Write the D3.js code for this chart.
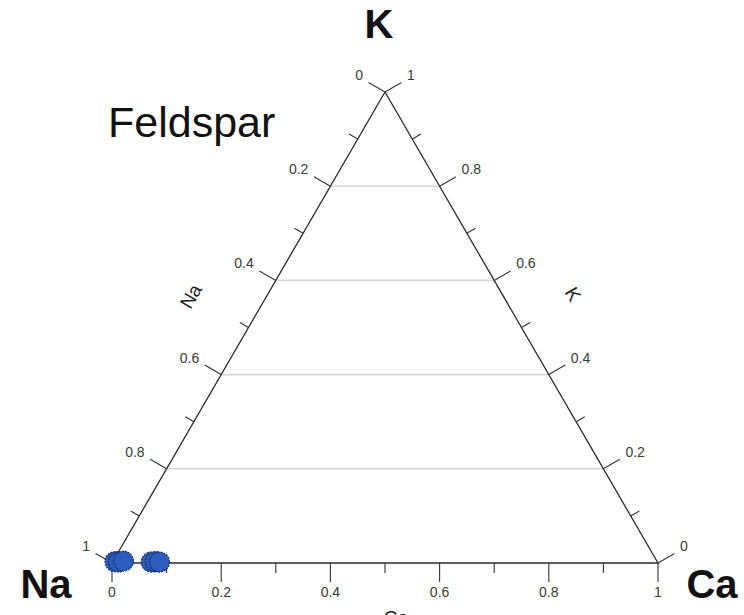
<!DOCTYPE html>
<html>
<head>
<meta charset="utf-8">
<script src="https://cdn.jsdelivr.net/npm/d3@7/dist/d3.min.js"></script>
<style>
  html, body { margin: 0; padding: 0; background: #fff; }
  svg { display: block; font-family: "Liberation Sans", Arial, sans-serif; }
</style>
</head>
<body>
<svg id="chart" width="744" height="615"></svg>
<script>
// Feldspar analyses, mole fractions of the three end-members
const sampleCa = [0.004, 0.011, 0.019, 0.071, 0.078, 0.086];
const sampleK  = [0.003, 0.002, 0.004, 0.002, 0.003, 0.002];
const sampleNa = sampleCa.map((c, i) => 1 - c - sampleK[i]);

// Axis ticks
const majorTicks = [0, 0.2, 0.4, 0.6, 0.8, 1];
const minorTicks = [0.1, 0.3, 0.5, 0.7, 0.9];
const tickLabels = ["0", "0.2", "0.4", "0.6", "0.8", "1"];
const gridK = [0.2, 0.4, 0.6, 0.8];

const vertexNames = ["Na", "K", "Ca"];
const chartTitle = "Feldspar";

const svg = d3.select("#chart");

// Ternary layout: horizontal position runs with Ca + K/2, vertical with K
const sx = d3.scaleLinear().domain([0, 1]).range([112, 658]);
const sy = d3.scaleLinear().domain([0, 1]).range([563, 92]);
const proj = (ca, k) => [sx(ca + k / 2), sy(k)];

const vNa = proj(0, 0), vCa = proj(1, 0), vK = proj(0, 1);

// grid lines of constant K
svg.append("g").selectAll("line").data(gridK).join("line")
  .attr("x1", k => proj(0, k)[0]).attr("y1", k => proj(0, k)[1])
  .attr("x2", k => proj(1 - k, k)[0]).attr("y2", k => proj(1 - k, k)[1])
  .attr("stroke", "#d6d6d6").attr("stroke-width", 1.6);

// triangle outline
svg.append("path")
  .attr("d", d3.line()([vNa, vCa, vK, vNa]) + "Z")
  .attr("fill", "none").attr("stroke", "#2a2a2a").attr("stroke-width", 1.3);

// axis definitions: point on edge for value v, outward unit normal
const c30 = Math.cos(Math.PI / 6), s30 = 0.5;
const axes = [
  { name: "Ca", at: v => proj(v, 0), n: [0, 1], labelOff: [0, 34], anchor: "middle" },
  { name: "Na", at: v => proj(0, 1 - v), n: [-c30, -s30], labelOff: [-22, -12], anchor: "end" },
  { name: "K",  at: v => proj(1 - v, v), n: [c30, -s30], labelOff: [22, -12], anchor: "start" }
];

axes.forEach(ax => {
  const g = svg.append("g");
  g.selectAll("line.major").data(majorTicks).join("line")
    .attr("x1", v => ax.at(v)[0]).attr("y1", v => ax.at(v)[1])
    .attr("x2", v => ax.at(v)[0] + ax.n[0] * 19).attr("y2", v => ax.at(v)[1] + ax.n[1] * 19)
    .attr("stroke", "#333").attr("stroke-width", 1.1);
  g.selectAll("line.minor").data(minorTicks).join("line")
    .attr("x1", v => ax.at(v)[0]).attr("y1", v => ax.at(v)[1])
    .attr("x2", v => ax.at(v)[0] + ax.n[0] * 10).attr("y2", v => ax.at(v)[1] + ax.n[1] * 10)
    .attr("stroke", "#333").attr("stroke-width", 1.1);
  g.selectAll("text").data(majorTicks).join("text")
    .attr("x", v => ax.at(v)[0] + ax.labelOff[0])
    .attr("y", v => ax.at(v)[1] + ax.labelOff[1])
    .attr("text-anchor", ax.anchor)
    .attr("font-size", 14).attr("fill", "#3a3a3a")
    .text((v, i) => tickLabels[i]);
});

// axis titles along the edges
const midL = proj(0, 0.5), midR = proj(0.5, 0.5);
svg.append("text").attr("transform", `translate(${midL[0] - 52},${midL[1] - 28}) rotate(-60)`)
  .attr("text-anchor", "middle").attr("font-size", 19).attr("fill", "#222").text("Na");
svg.append("text").attr("transform", `translate(${midR[0] + 46},${midR[1] - 30}) rotate(60)`)
  .attr("text-anchor", "middle").attr("font-size", 19).attr("fill", "#222").text("K");
svg.append("text").attr("x", sx(0.52)).attr("y", 624)
  .attr("text-anchor", "middle").attr("font-size", 19).attr("fill", "#222").text("Ca");

// vertex names
svg.append("text").attr("x", vK[0] - 6).attr("y", 38).attr("text-anchor", "middle")
  .attr("font-size", 40).attr("font-weight", "bold").attr("fill", "#111").text(vertexNames[1]);
svg.append("text").attr("x", 46).attr("y", 598).attr("text-anchor", "middle")
  .attr("font-size", 40).attr("font-weight", "bold").attr("fill", "#111").text(vertexNames[0]);
svg.append("text").attr("x", 712).attr("y", 598).attr("text-anchor", "middle")
  .attr("font-size", 40).attr("font-weight", "bold").attr("fill", "#111").text(vertexNames[2]);

// title
svg.append("text").attr("x", 108).attr("y", 137).attr("font-size", 43).attr("fill", "#111").text(chartTitle);

// sample points
svg.append("g").selectAll("circle").data(sampleNa).join("circle")
  .attr("cx", (d, i) => proj(sampleCa[i], sampleK[i])[0])
  .attr("cy", (d, i) => proj(sampleCa[i], sampleK[i])[1])
  .attr("r", 10)
  .attr("fill", "#2d5cbc").attr("stroke", "#1b2f6b").attr("stroke-width", 1.2)
  .attr("stroke-dasharray", "2,1");
</script>
</body>
</html>
